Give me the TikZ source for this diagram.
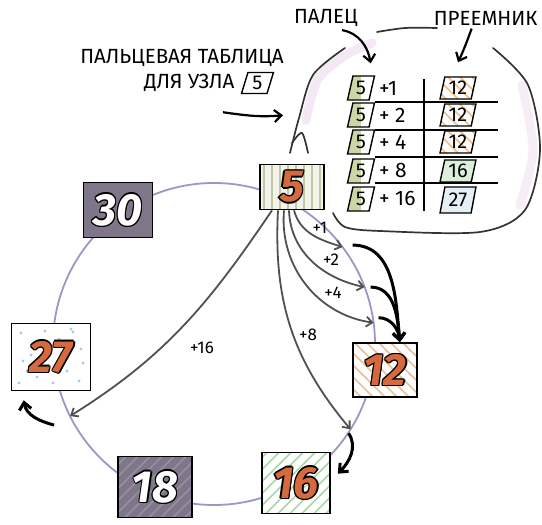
\documentclass[tikz,border=0pt]{standalone}
\usepackage{fontspec}
\setmainfont{Fira Sans}
\usepackage{tikz}
\usetikzlibrary{arrows.meta,positioning,shapes.geometric,calc}
\definecolor{ringpurple}{HTML}{9C96C6}
\definecolor{numorange}{HTML}{D46A3E}
\definecolor{boxcream}{HTML}{F4F4EC}
\definecolor{stripegreen}{HTML}{BFC9A3}
\definecolor{darkbox}{HTML}{7F7689}
\definecolor{darkboxlight}{HTML}{968FA0}
\definecolor{hatchorange}{HTML}{F2BE8A}
\definecolor{hatchgreen}{HTML}{A8D8A4}
\definecolor{dotblue}{HTML}{A6CEE0}
\definecolor{fingergray}{HTML}{505050}
\definecolor{fingergreen}{HTML}{CAD6A6}

% big digits with a dark rim
\newbox\numbox
\newcommand\numshift[2]{\rlap{\kern#1\raisebox{#2}{\copy\numbox}}}
\newcommand\outnum[2]{%
  \setbox\numbox\hbox{#2}%
  {\color{black}\numshift{-1.3pt}{0pt}\numshift{1.3pt}{0pt}\numshift{0pt}{1.3pt}\numshift{0pt}{-1.3pt}%
   \numshift{-.9pt}{.9pt}\numshift{.9pt}{.9pt}\numshift{-.9pt}{-.9pt}\numshift{.9pt}{-.9pt}}%
  {\color{#1}\copy\numbox}}
\newcommand\numfont{\fontsize{45}{45}\selectfont\bfseries\itshape}

\begin{document}
\begin{tikzpicture}[x=1pt,y=1pt,
   ringbox/.style={draw,line width=1.6pt,inner sep=0pt,font=\numfont},
   ringline/.style={draw=ringpurple,line width=1.8pt},
   vstripes/.style={path picture={\foreach \i in {-36,-28,...,36}
      \draw[#1,line width=2pt] ([xshift=\i pt]path picture bounding box.south)
        -- ([xshift=\i pt]path picture bounding box.north);}},
   dstripes/.style={path picture={\foreach \i in {-90,-78,...,60}
      \draw[#1,line width=1.6pt] ([xshift=\i pt]path picture bounding box.south) -- ++(45:130pt);}},
   astripes/.style={path picture={\foreach \i in {-60,-48,...,90}
      \draw[#1,line width=1.6pt] ([xshift=\i pt]path picture bounding box.south) -- ++(135:130pt);}},
   bluedots/.style={path picture={\foreach \a/\b in {-30/24,-18/12,-6/26,8/18,22/25,30/8,-28/-4,-14/-20,
        2/-26,16/-14,28/-24,-32/-26,10/4,-20/2,32/-6,-4/-10,20/28,-24/-14}
      \fill[dotblue] ([shift={(\a pt,\b pt)}]path picture bounding box.center) circle (1.6pt);}},
   finger/.style={draw=fingergray,line width=1.8pt,-{Straight Barb[length=6pt,width=10pt]}},
   succ/.style={line width=3pt,-{Straight Barb[length=7pt,width=12pt]}},
   steplabel/.style={font=\fontsize{17}{17}\selectfont},
   caption/.style={font=\fontsize{20.5}{20.5}\selectfont},
   tabtext/.style={font=\fontsize{21}{21}\selectfont,inner sep=1pt},
   fbox/.style={trapezium,trapezium left angle=76,trapezium right angle=104,trapezium stretches=true,
      draw,line width=1.4pt,minimum width=27pt,minimum height=24pt,inner sep=0pt,
      font=\fontsize{20}{20}\selectfont},
   sbox/.style={fbox,minimum width=36pt,minimum height=22pt},
   tabline/.style={line width=1.5pt},
   bubble/.style={draw=black!80,line width=1.7pt,line cap=round}]
  \useasboundingbox (0,0) rectangle (542,525);

  % ring of nodes
  \coordinate (c) at (214,181);
  \draw[ringline] (c) circle (161pt);
  \coordinate (t1) at ($(c)+(37:161pt)$);
  \coordinate (t2) at ($(c)+(20.7:161pt)$);
  \coordinate (t4) at ($(c)+(7.6:161pt)$);
  \coordinate (t8) at ($(c)+(-32:161pt)$);
  \coordinate (t16) at ($(c)+(206.6:161pt)$);

  \node[ringbox,minimum width=64pt,minimum height=45pt,fill=boxcream,vstripes=stripegreen] (k5) at (292,338) {\outnum{numorange}{5}};
  \node[ringbox,minimum width=69pt,minimum height=55pt,fill=darkbox] (k30) at (118,315) {\outnum{white}{30}};
  \node[ringbox,minimum width=79pt,minimum height=67pt,fill=white,bluedots] (k27) at (51,168) {\outnum{numorange}{27}};
  \node[ringbox,minimum width=74pt,minimum height=61pt,fill=darkbox,dstripes=darkboxlight] (k18) at (155,38) {\outnum{white}{18}};
  \node[ringbox,minimum width=68pt,minimum height=61pt,fill=white,dstripes=hatchgreen] (k16) at (296,42) {\outnum{numorange}{16}};
  \node[ringbox,minimum width=64pt,minimum height=54pt,fill=white,astripes=hatchorange] (k12) at (385,155) {\outnum{numorange}{12}};

  % fingers of node 5
  \draw[finger] ([xshift=2pt]k5.south) to[out=-75,in=162] (t1);
  \draw[finger] ([xshift=-3pt]k5.south) to[out=-88,in=168] (t2);
  \draw[finger] ([xshift=-8pt]k5.south) to[out=-95,in=172] (t4);
  \draw[finger] ([xshift=-14pt]k5.south) to[out=-93,in=130] (t8);
  \draw[finger] ([xshift=-20pt]k5.south) to[out=236,in=32] (t16);
  \node[steplabel] (l1) at (320,297) {+1};
  \node[steplabel] (l2) at (331,265) {+2};
  \node[steplabel] (l4) at (333,232) {+4};
  \node[steplabel] (l8) at (308,190) {+8};
  \node[steplabel] (l16) at (202,177) {+16};

  % successors
  \coordinate (s1) at ($(t1)+(10,2)$);
  \coordinate (s2) at ($(t2)+(6,0)$);
  \coordinate (s4) at ($(t4)+(5,5)$);
  \coordinate (s8) at ($(t8)+(-2,-4)$);
  \coordinate (s16) at ($(t16)+(-16,-9)$);
  \draw[succ] (s1) to[out=0,in=95] (k12.62);
  \draw[succ] (s2) to[out=0,in=95] (k12.62);
  \draw[succ] (s4) to[out=0,in=95] (k12.62);
  \draw[succ] (s8) to[out=-55,in=45] ([xshift=7pt]k16.15);
  \draw[succ] (s16) to[out=165,in=-80] ([shift={(13pt,-9pt)}]k27.south west);

  % speech bubble with the table
  \draw[line width=9pt,violet!9,line cap=round] plot[smooth] coordinates {(306,405) (318,446) (346,470) (372,482)};
  \draw[line width=9pt,violet!7,line cap=round] plot[smooth] coordinates {(522,440) (533,375) (520,320)};
  \draw[bubble] plot[smooth] coordinates {(290,372) (299,407) (313,450) (345,477)};
  \draw[bubble] plot[smooth] coordinates {(292,382) (302,392) (308,372)};
  \draw[bubble] plot[smooth] coordinates {(377,493) (405,497) (437,497)};
  \draw[bubble] plot[smooth] coordinates {(493,477) (528,440) (540,375) (525,315) (480,293) (380,294) (345,298) (333,312)};

  \foreach \y in {423,395,368,342}
    \draw[tabline] (375,\y) -- (498,\y);
  \draw[tabline] (424,314) -- (424,446);

  \foreach \r/\y/\o in {1/437/+1,2/410/+ 2,3/383/+ 4,4/354/+ 8,5/326/+ 16} {
    \node[fbox,fill=white,path picture={\fill[fingergreen] (path picture bounding box.south west)
        rectangle ([xshift=13pt]path picture bounding box.north west);}] (f\r) at (361,\y) {5};
    \node[tabtext,anchor=west] (o\r) at (378,\y) {\o};
  }
  \node[sbox,fill=white,astripes=hatchorange] (su1) at (458,437) {12};
  \node[sbox,fill=white,astripes=hatchorange] (su2) at (458,410) {12};
  \node[sbox,fill=white,astripes=hatchorange] (su3) at (458,383) {12};
  \node[sbox,fill=hatchgreen!40] (su4) at (458,354) {16};
  \node[sbox,fill=dotblue!30,minimum height=26pt] (su5) at (458,325) {27};

  % captions
  \node[caption] (lfinger) at (326,507) {ПАЛЕЦ};
  \node[caption,anchor=east] (lsucc) at (541,507) {ПРЕЕМНИК};
  \node[caption] (ltable) at (182,467) {ПАЛЬЦЕВАЯ ТАБЛИЦА};
  \node[caption,anchor=east] (lfor) at (238,442) {ДЛЯ УЗЛА};
  \node[fbox,minimum width=32pt,minimum height=21pt,right=6pt of lfor] (lbox) {5};
  \draw[succ,line width=2.2pt] ([xshift=16pt]lfinger.south) to[out=-10,in=100] ([shift={(-3pt,12pt)}]f1.north east);
  \draw[succ,line width=2.2pt] ([xshift=-14pt]lsucc.south) to[out=-110,in=65] ([yshift=14pt]su1.north);
  \draw[succ,line width=2.2pt] ([shift={(-15pt,-17pt)}]lfor.south east) to[out=-8,in=185] ([shift={(45pt,-20pt)}]lfor.south east);
\end{tikzpicture}
\end{document}
